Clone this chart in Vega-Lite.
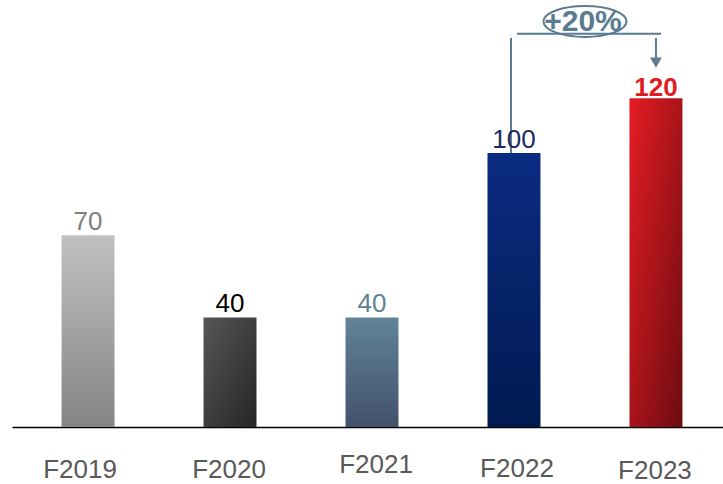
{
  "$schema": "https://vega.github.io/schema/vega-lite/v6.json",
  "width": 720,
  "height": 411,
  "autosize": {"type": "none"},
  "padding": {"left": 12, "top": 16, "right": 0, "bottom": 57},
  "background": "#ffffff",
  "config": {"view": {"stroke": null}, "font": "Liberation Sans"},
  "datasets": {
    "sales": [
      {"year": "F2019", "value": 70},
      {"year": "F2020", "value": 40},
      {"year": "F2021", "value": 40},
      {"year": "F2022", "value": 100},
      {"year": "F2023", "value": 120}
    ]
  },
  "data": {"name": "sales"},
  "encoding": {
    "x": {
      "field": "year",
      "type": "nominal",
      "sort": null,
      "scale": {"paddingInner": 0.627, "paddingOuter": 0.349},
      "axis": {
        "title": null,
        "ticks": false,
        "labelAngle": 0,
        "labelFontSize": 26,
        "labelColor": "#595959",
        "labelPadding": {"condition": [{"test": "datum.label === 'F2021'", "value": 24}, {"test": "datum.label === 'F2023'", "value": 30}, {"test": "datum.label === 'F2022'", "value": 28}], "value": 29},
        "labelBaseline": "top",
        "labelOffset": {"condition": [{"test": "datum.label === 'F2019'", "value": -8}, {"test": "datum.label === 'F2021'", "value": 4}, {"test": "datum.label === 'F2022'", "value": 3}], "value": -1},
        "domainColor": "#000000",
        "domainWidth": 1.5,
        "grid": false
      }
    },
    "y": {
      "field": "value",
      "type": "quantitative",
      "scale": {"domain": [0, 150], "nice": false},
      "axis": null
    }
  },
  "layer": [
    {
      "transform": [{"filter": "datum.year === 'F2019'"}],
      "mark": {"type": "bar", "color": {"gradient": "linear", "x1": 0, "y1": 0, "x2": 0, "y2": 1, "stops": [{"offset": 0, "color": "#c0c0c0"}, {"offset": 1, "color": "#858585"}]}}
    },
    {
      "transform": [{"filter": "datum.year === 'F2020'"}],
      "mark": {"type": "bar", "color": {"gradient": "linear", "x1": 0, "y1": 0, "x2": 1, "y2": 1, "stops": [{"offset": 0, "color": "#565656"}, {"offset": 1, "color": "#262626"}]}}
    },
    {
      "transform": [{"filter": "datum.year === 'F2021'"}],
      "mark": {"type": "bar", "color": {"gradient": "linear", "x1": 0, "y1": 0, "x2": 0, "y2": 1, "stops": [{"offset": 0, "color": "#618497"}, {"offset": 1, "color": "#43516b"}]}}
    },
    {
      "transform": [{"filter": "datum.year === 'F2022'"}],
      "mark": {"type": "bar", "color": {"gradient": "linear", "x1": 0, "y1": 0, "x2": 0, "y2": 1, "stops": [{"offset": 0, "color": "#0b2b82"}, {"offset": 1, "color": "#001a50"}]}}
    },
    {
      "transform": [{"filter": "datum.year === 'F2023'"}],
      "mark": {"type": "bar", "color": {"gradient": "linear", "x1": 0, "y1": 0, "x2": 1, "y2": 1, "stops": [{"offset": 0, "color": "#e61c24"}, {"offset": 1, "color": "#6c0c10"}]}}
    },
    {
      "data": {"values": [{"year": "F2022", "value": 100, "top": 142}]},
      "mark": {"type": "rule", "color": "#5b7b8f", "strokeWidth": 2, "xOffset": -3},
      "encoding": {"y2": {"field": "top"}}
    },
    {
      "data": {"values": [{"year": "F2022", "end": "F2023", "value": 143.5}]},
      "mark": {"type": "rule", "color": "#5b7b8f", "strokeWidth": 2, "xOffset": 3, "x2Offset": 5},
      "encoding": {"x2": {"field": "end"}}
    },
    {
      "data": {"values": [{"year": "F2023", "value": 142, "low": 134}]},
      "mark": {"type": "rule", "color": "#5b7b8f", "strokeWidth": 2},
      "encoding": {"y2": {"field": "low"}}
    },
    {
      "data": {"values": [{"year": "F2023", "value": 133}]},
      "mark": {"type": "point", "shape": "triangle-down", "filled": true, "color": "#5b7b8f", "opacity": 1, "size": 140}
    },
    {
      "data": {"values": [{"year": "F2022", "value": 148}]},
      "mark": {"type": "point", "shape": "M-1,0C-1,-0.206,-0.552,-0.373,0,-0.373C0.552,-0.373,1,-0.206,1,0C1,0.206,0.552,0.373,0,0.373C-0.552,0.373,-1,0.206,-1,0Z", "filled": false, "stroke": "#5b7b8f", "strokeWidth": 2, "opacity": 1, "size": 6889, "xOffset": 71}
    },
    {
      "data": {"values": [{"year": "F2022", "value": 148, "label": "+20%"}]},
      "mark": {"type": "text", "fontSize": 30, "fontWeight": "bold", "color": "#5b7b8f", "baseline": "middle", "xOffset": 69, "dy": 1},
      "encoding": {"text": {"field": "label"}}
    },
    {
      "transform": [{"filter": "datum.year !== 'F2023'"}],
      "mark": {"type": "text", "fontSize": 26, "baseline": "alphabetic", "dy": -5},
      "encoding": {
        "text": {"field": "value", "type": "quantitative"},
        "color": {
          "field": "year",
          "type": "nominal",
          "legend": null,
          "scale": {"domain": ["F2019", "F2020", "F2021", "F2022"], "range": ["#7f7f7f", "#000000", "#5f8295", "#1a2a5e"]}
        }
      }
    },
    {
      "transform": [{"filter": "datum.year === 'F2023'"}],
      "mark": {"type": "text", "fontSize": 26, "fontWeight": "bold", "baseline": "alphabetic", "dy": -2, "color": "#e01b22"},
      "encoding": {"text": {"field": "value", "type": "quantitative"}}
    }
  ]
}
